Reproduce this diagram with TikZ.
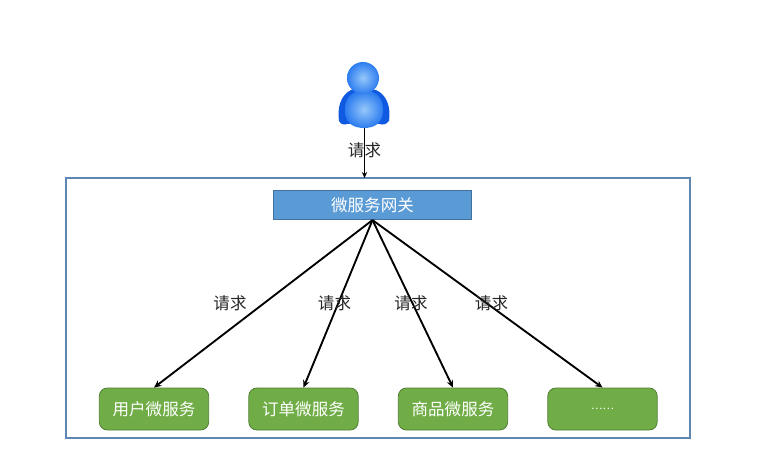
\documentclass[tikz,border=0pt]{standalone}
\usepackage{fontspec}
\usepackage{tikz}
\setmainfont{Noto Sans CJK SC}
\usetikzlibrary{arrows.meta}
\definecolor{gatefill}{RGB}{91,155,213}
\definecolor{gateline}{RGB}{65,113,156}
\definecolor{svcfill}{RGB}{112,173,71}
\definecolor{svcline}{RGB}{80,126,50}
\definecolor{boxline}{RGB}{95,135,180}
\definecolor{userdark}{RGB}{15,90,225}
\definecolor{usermid}{RGB}{45,125,240}
\definecolor{userlight}{RGB}{150,200,250}
\tikzset{
  svc/.style={draw=svcline,fill=svcfill,rounded corners=6pt,line width=0.6pt,minimum width=82pt,minimum height=31.5pt,inner sep=0pt,text=white,font=\fontsize{12.4}{14}\selectfont},
  gate/.style={draw=gateline,fill=gatefill,line width=0.6pt,minimum width=149pt,minimum height=22pt,inner sep=0pt,text=white,font=\fontsize{12.4}{14}\selectfont},
  lbl/.style={inner sep=0pt,text=black!85,font=\fontsize{12.4}{14}\selectfont},
  link/.style={draw=black,line width=1.4pt,-{Stealth[length=5.5pt,width=5pt]}},
  thinlink/.style={draw=black,line width=0.7pt,-{Stealth[length=4.5pt,width=4pt]}}
}
\begin{document}
\begin{tikzpicture}[x=0.75pt,y=0.75pt,yscale=-1,xscale=1]

% Page
\useasboundingbox (0,0) rectangle (762,466);

% Outer box
\draw [draw=boxline,line width=0.8pt] (66,178) rectangle (690,438);

% User icon
\fill [userdark] (339,121) .. controls (337,107) and (341,95) .. (351,90) -- (376,90) .. controls (387,95) and (391,107) .. (389,121) .. controls (386,125) and (382,125) .. (380,124) -- (347,124) .. controls (345,125) and (341,125) .. (339,121) -- cycle;
\shade [inner color=userlight,outer color=usermid] (345,110) .. controls (345,97) and (352,91) .. (364,91) .. controls (376,91) and (383,97) .. (383,110) .. controls (383,122) and (376,128) .. (364,128) .. controls (352,128) and (345,122) .. (345,110) -- cycle;
\shade [inner color=userlight,outer color=usermid] (363,78) circle [radius=16];

% Points
\coordinate (userfoot) at (364.5,128);
\coordinate (boxtop) at (364.5,178);

% Nodes
\node [gate] (gateway) at (372.5,205) {微服务网关};
\node [svc] (user) at (154,409) {用户微服务};
\node [svc] (order) at (303.5,409) {订单微服务};
\node [svc] (goods) at (453,409) {商品微服务};
\node [svc,font=\fontsize{8}{10}\selectfont] (more) at (602.5,409) {……};

% Lines
\draw [thinlink] (userfoot) -- (boxtop);
\draw [link] (gateway.south) -- (user.north);
\draw [link] (gateway.south) -- (order.north);
\draw [link] (gateway.south) -- (goods.north);
\draw [link] (gateway.south) -- (more.north);

% Labels
\node [lbl] (reqtop) at (364.5,150) {请求};
\node [lbl] (requser) at (230,303.5) {请求};
\node [lbl] (reqorder) at (334.5,303.5) {请求};
\node [lbl] (reqgoods) at (411,303.5) {请求};
\node [lbl] (reqmore) at (491.5,303.5) {请求};

\end{tikzpicture}
\end{document}
